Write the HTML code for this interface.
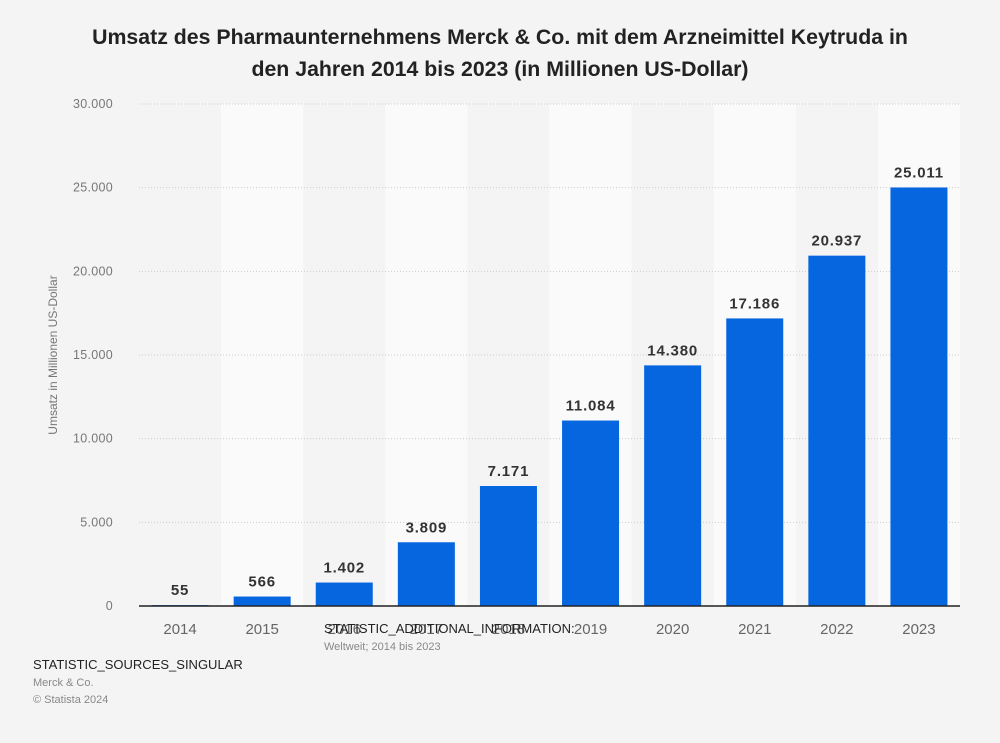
<!DOCTYPE html>
<html><head><meta charset="utf-8"><style>
body{margin:0;background:#f4f4f4;font-family:"Liberation Sans",Arial,sans-serif;}
#wrap{position:relative;width:1000px;height:743px;overflow:hidden;}
</style></head><body>
<div id="wrap">
<svg id="chart" width="1000" height="743">
<text x="500" y="44" text-anchor="middle" font-size="21.3" font-weight="bold" fill="#222">Umsatz des Pharmaunternehmens Merck &amp; Co. mit dem Arzneimittel Keytruda in</text>
<text x="500" y="76" text-anchor="middle" font-size="21.3" font-weight="bold" fill="#222">den Jahren 2014 bis 2023 (in Millionen US-Dollar)</text>
<g id="bands"></g><g id="grid"></g><g id="bars"></g><g id="labels"></g>
<text transform="translate(57,355) rotate(-90)" text-anchor="middle" font-size="12" fill="#777">Umsatz in Millionen US-Dollar</text>
<text x="324" y="633" font-size="13" fill="#222">STATISTIC_ADDITIONAL_INFORMATION:</text>
<text x="324" y="650" font-size="11" fill="#888">Weltweit; 2014 bis 2023</text>
<text x="33" y="669" font-size="13" fill="#222">STATISTIC_SOURCES_SINGULAR</text>
<text x="33" y="686" font-size="11" fill="#888">Merck &amp; Co.</text>
<text x="33" y="703" font-size="11" fill="#888">© Statista 2024</text>
</svg>
</div>
<script>
const categories=["2014","2015","2016","2017","2018","2019","2020","2021","2022","2023"];
const values=[55,566,1402,3809,7171,11084,14380,17186,20937,25011];
const valueLabels=["55","566","1.402","3.809","7.171","11.084","14.380","17.186","20.937","25.011"];
const yTicks=[0,5000,10000,15000,20000,25000,30000];
const yTickLabels=["0","5.000","10.000","15.000","20.000","25.000","30.000"];
const NS="http://www.w3.org/2000/svg";
const L=139,R=960,T=104,B=606,YMAX=30000;
const slot=(R-L)/categories.length, bw=57;
const y=v=>B-v/YMAX*(B-T);
const xc=i=>L+slot*(i+0.5);
function mk(tag,attrs,parent,txt){const e=document.createElementNS(NS,tag);for(const k in attrs)e.setAttribute(k,attrs[k]);if(txt!==undefined)e.textContent=txt;document.getElementById(parent).appendChild(e);return e;}
categories.forEach((c,i)=>{if(i%2===1){const b=mk('rect',{x:L+slot*i,y:T,width:slot,height:B-T,fill:'#fafafa'},'bands');

}});
yTicks.forEach((t,i)=>{
 if(t>0){const g=mk('line',{x1:L,x2:R,y1:y(t),y2:y(t),stroke:'#ccc','stroke-dasharray':'1,2'},'grid');
 
 }
 const tl=mk('text',{x:113,y:y(t)+4,'text-anchor':'end','font-size':12.5,fill:'#777','letter-spacing':0.3},'grid',yTickLabels[i]);
 
 
});
const ax=mk('line',{x1:L,x2:R,y1:B,y2:B,stroke:'#222','stroke-width':1.5},'labels');


categories.forEach((c,i)=>{
 const r=mk('rect',{x:xc(i)-bw/2,y:y(values[i]),width:bw,height:B-y(values[i]),fill:'#0566e0'},'bars');
 
 
 const v=mk('text',{x:xc(i),y:y(values[i])-10,'text-anchor':'middle','font-size':15,'font-weight':'bold',fill:'#333','letter-spacing':0.8},'labels',valueLabels[i]);
 
 
 const xl=mk('text',{x:xc(i),y:634,'text-anchor':'middle','font-size':15,fill:'#666'},'labels',c);
 
 
});
</script>
</body></html>
